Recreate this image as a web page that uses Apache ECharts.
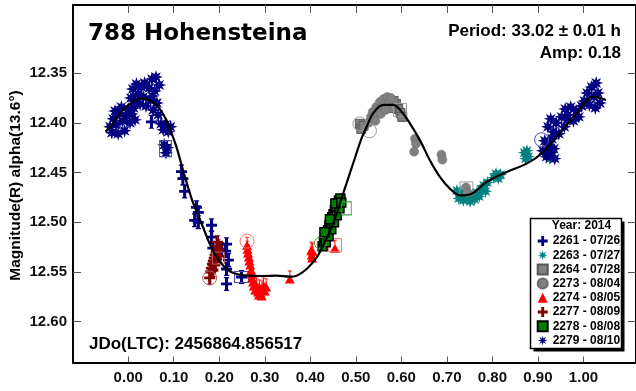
<!DOCTYPE html>
<html>
<head>
<meta charset="utf-8">
<script src="https://cdn.jsdelivr.net/npm/echarts@6/dist/echarts.min.js"></script>
<style>
  html, body { margin: 0; padding: 0; background: #fff; }
  #chart { width: 636px; height: 391px; }
</style>
</head>
<body>
<div id="chart"></div>
<script>
// 788 Hohensteina — phased R-band lightcurve, P = 33.02 h

// Axis ticks
const phaseTicks = [0.0, 0.1, 0.2, 0.3, 0.4, 0.5, 0.6, 0.7, 0.8, 0.9, 1.0];
const magTicks = [12.35, 12.40, 12.45, 12.50, 12.55, 12.60];

// Fourier fit curve (phase, magnitude)
const fitPhase = [-0.0495, -0.0334, -0.0114, 0.0105, 0.029, 0.0473, 0.0655, 0.084, 0.0912, 0.1059,
  0.1204, 0.139, 0.150, 0.1644, 0.179, 0.197, 0.216, 0.238, 0.267, 0.296,
  0.326, 0.355, 0.370, 0.392, 0.4136, 0.428, 0.450, 0.472, 0.494, 0.5125,
  0.5235, 0.538, 0.560, 0.582, 0.6004, 0.6187, 0.6407, 0.6626, 0.6846, 0.7066,
  0.7286, 0.7543, 0.787, 0.831, 0.875, 0.908, 0.948, 0.985, 1.0215, 1.0495];
const fitMag = [12.409, 12.4005, 12.387, 12.3787, 12.3753, 12.377, 12.3837, 12.3972, 12.4056, 12.4241,
  12.4477, 12.476, 12.489, 12.505, 12.5217, 12.5369, 12.547, 12.552, 12.5537, 12.554,
  12.5537, 12.5547, 12.5537, 12.547, 12.5356, 12.5234, 12.5015, 12.4712, 12.4409, 12.4157,
  12.404, 12.3904, 12.382, 12.382, 12.3888, 12.4005, 12.4174, 12.4376, 12.4544, 12.4662,
  12.473, 12.4713, 12.4595, 12.4494, 12.441, 12.4308, 12.4106, 12.3904, 12.3736, 12.377];

// Session 2261 - 07/26
const s2261 = [[0.051,12.399],[0.117,12.449],[0.120,12.456],[0.124,12.469],[0.150,12.485],[0.154,12.490],
  [0.146,12.498],[0.154,12.500],[0.183,12.503],[0.183,12.515],[0.186,12.526],[0.205,12.527],[0.216,12.522],
  [0.214,12.529],[0.220,12.538],[0.216,12.547],[0.216,12.562],[0.249,12.555]];
const r2261 = [[0.249,12.555]];

// Session 2263 - 07/27
const s2263 = [[0.722,12.468],[0.726,12.476],[0.731,12.471],[0.736,12.478],[0.741,12.469],[0.746,12.475],
  [0.751,12.479],[0.756,12.472],[0.761,12.477],[0.766,12.470],[0.771,12.474],[0.775,12.467],[0.781,12.463],
  [0.785,12.469],[0.789,12.460],[0.803,12.455],[0.808,12.451],[0.813,12.456],[0.818,12.452],[0.870,12.430],
  [0.873,12.436],[0.876,12.428],[0.879,12.434],[0.922,12.432],[0.926,12.436],[0.930,12.430]];

// Session 2264 - 07/28
const s2264 = [[0.509,12.401],[0.512,12.406],[0.517,12.403],[0.588,12.381],[0.593,12.386],[0.598,12.390],
  [0.602,12.394],[0.578,12.385],[0.583,12.378]];
const r2264 = [[0.597,12.387],[0.743,12.466]];

// Session 2273 - 08/04
const s2273 = [[0.528,12.400],[0.533,12.394],[0.537,12.389],[0.541,12.393],[0.545,12.384],[0.549,12.388],
  [0.553,12.379],[0.557,12.384],[0.561,12.376],[0.565,12.381],[0.569,12.374],[0.573,12.379],[0.577,12.375],
  [0.543,12.398],[0.555,12.391],[0.566,12.387],[0.630,12.416],[0.632,12.421],[0.628,12.429],[0.688,12.432],
  [0.690,12.437],[0.742,12.465],[0.745,12.470]];
const r2273 = [[0.509,12.401],[0.530,12.408]];

// Session 2274 - 08/05
const s2274 = [[0.261,12.521],[0.262,12.525],[0.263,12.529],[0.265,12.533],[0.266,12.537],[0.268,12.541],
  [0.270,12.546],[0.271,12.550],[0.272,12.554],[0.274,12.558],[0.276,12.562],[0.279,12.566],[0.282,12.562],
  [0.285,12.568],[0.288,12.564],[0.291,12.569],[0.294,12.565],[0.297,12.562],[0.300,12.567],[0.303,12.563],
  [0.287,12.571],[0.293,12.572],[0.355,12.555],[0.402,12.526],[0.403,12.531],[0.404,12.534],[0.405,12.527],
  [0.454,12.524]];
const r2274 = [[0.261,12.519],[0.454,12.523]];

// Session 2277 - 08/09
const s2277 = [[0.179,12.556],[0.181,12.550],[0.183,12.546],[0.185,12.542],[0.187,12.539],[0.189,12.536],
  [0.191,12.533],[0.193,12.530],[0.195,12.527],[0.197,12.524],[0.199,12.528],[0.201,12.534],[0.186,12.548],
  [0.190,12.543],[0.194,12.537],[0.196,12.520]];
const r2277 = [[0.179,12.556],[0.198,12.536]];

// Session 2278 - 08/08
const s2278 = [[0.427,12.524],[0.430,12.519],[0.433,12.516],[0.436,12.511],[0.439,12.508],[0.442,12.503],
  [0.445,12.500],[0.448,12.495],[0.451,12.492],[0.454,12.488],[0.457,12.485],[0.460,12.481],[0.463,12.478],
  [0.466,12.476],[0.434,12.520],[0.440,12.514],[0.446,12.507],[0.452,12.500],[0.458,12.493],[0.464,12.486],
  [0.431,12.510],[0.443,12.497],[0.455,12.481],[0.468,12.480]];
const r2278 = [[0.479,12.486],[0.422,12.521]];

// Session 2279 - 08/10
const s2279 = [[-0.040,12.404],[-0.036,12.410],[-0.033,12.396],[-0.029,12.388],[-0.026,12.402],[-0.022,12.411],
  [-0.019,12.391],[-0.015,12.384],[-0.012,12.398],[-0.008,12.408],[-0.004,12.393],[0.000,12.386],[0.004,12.400],
  [0.008,12.391],[0.012,12.385],[0.015,12.397],
  [0.006,12.375],[0.010,12.366],[0.014,12.378],[0.018,12.361],[0.022,12.371],[0.026,12.381],[0.029,12.364],
  [0.033,12.374],[0.036,12.360],[0.039,12.383],
  [0.046,12.365],[0.049,12.377],[0.052,12.356],[0.055,12.387],[0.058,12.368],[0.061,12.354],[0.063,12.380],
  [0.066,12.392],[0.068,12.362],[0.053,12.373],
  [0.072,12.401],[0.077,12.407],[0.082,12.402],[0.088,12.409],[0.093,12.404],
  [0.079,12.422],[0.083,12.430],[0.086,12.425],
  [0.911,12.428],[0.915,12.418],[0.919,12.434],[0.923,12.422],[0.927,12.430],[0.931,12.416],[0.935,12.426],
  [0.937,12.436],
  [0.922,12.404],[0.928,12.396],[0.934,12.409],[0.940,12.400],[0.946,12.411],[0.952,12.394],[0.958,12.404],
  [0.964,12.397],
  [0.960,12.386],[0.966,12.392],[0.972,12.384],[0.978,12.398],[0.984,12.388],[0.990,12.394],[0.996,12.383],
  [1.002,12.378],[1.008,12.370],[1.013,12.382],[1.018,12.364],[1.023,12.374],[1.028,12.360],[1.032,12.370],
  [1.036,12.380],[1.026,12.385]];
const r2279 = [[0.082,12.426],[0.908,12.417]];

// ---- marker shapes ----
function starPath(n, ro, ri) {
  let d = '';
  for (let i = 0; i < 2 * n; i++) {
    const a = -Math.PI / 2 + i * Math.PI / n;
    const r = i % 2 ? ri : ro;
    d += (i ? 'L' : 'M') + (r * Math.cos(a)).toFixed(3) + ',' + (r * Math.sin(a)).toFixed(3);
  }
  return 'path://' + d + 'Z';
}
const STAR = starPath(8, 10, 4.6);
const STAR_ICON = starPath(8, 10, 4.0);
const PLUS_BAR = 'path://M0,5.6H10V8.4H0Z M3.6,0H6.4V14H3.6Z M2.6,0H7.4V1.2H2.6Z M2.6,12.8H7.4V14H2.6Z';
const PLUS = 'path://M0,3.6H10V6.4H0Z M3.6,0H6.4V10H3.6Z';
const TRI_BAR = 'path://M5,4L10,13H0Z M4.5,0H5.5V5H4.5Z M3,0H7V0.9H3Z';

const FONT = '"Liberation Sans", Arial, sans-serif';

function ringItems(pts, shape, size, color) {
  return pts.map(p => ({
    value: p,
    symbol: shape,
    symbolSize: size,
    itemStyle: { color: 'rgba(0,0,0,0)', borderColor: color, borderWidth: 1 },
    z: 1
  }));
}

function scatter(name, pts, rings, sym, size, style, z) {
  return {
    type: 'scatter',
    name: name,
    symbol: sym,
    symbolSize: size,
    itemStyle: Object.assign({ opacity: 1 }, style),
    z: z,
    animation: false,
    emphasis: { disabled: true },
    data: pts.map(p => ({ value: p })).concat(rings)
  };
}

const names = ['2261 - 07/26', '2263 - 07/27', '2264 - 07/28', '2273 - 08/04',
               '2274 - 08/05', '2277 - 08/09', '2278 - 08/08', '2279 - 08/10'];

const series = [
  scatter(names[1], s2263, [], STAR, 13, { color: '#008080' }, 2),
  scatter(names[2], s2264, ringItems(r2264, 'rect', 13, '#9a9a9a'), 'rect', 9,
          { color: '#808080', borderColor: '#555555', borderWidth: 1 }, 3),
  scatter(names[3], s2273, ringItems(r2273, 'circle', 14, '#9a9a9a'), 'circle', 9,
          { color: '#808080', borderColor: '#6a6a6a', borderWidth: 0.5 }, 3),
  scatter(names[0], s2261, ringItems(r2261, 'rect', [14, 11], '#4a4aa8'), PLUS_BAR, [11, 14],
          { color: '#000080' }, 4),
  scatter(names[5], s2277, ringItems(r2277, 'circle', 14, '#b86060').map((d, i) => i === 1 ?
          Object.assign(d, { symbol: 'rect', symbolSize: 12 }) : d), PLUS_BAR, [11, 14],
          { color: '#800000' }, 4),
  scatter(names[4], s2274, ringItems(r2274, 'circle', 14, '#ff7070').map((d, i) => i === 1 ?
          Object.assign(d, { symbol: 'rect', symbolSize: 13 }) : d), TRI_BAR, [10, 13],
          { color: '#ff0000' }, 4),
  scatter(names[6], s2278, ringItems(r2278, 'rect', [10, 13], '#40a040').map((d, i) => i === 1 ?
          Object.assign(d, { symbol: 'circle', symbolSize: 12 }) : d), 'rect', 9,
          { color: '#008000', borderColor: '#000000', borderWidth: 1.5 }, 4),
  scatter(names[7], s2279, ringItems(r2279, 'rect', [12, 16], '#4a4aa8').map((d, i) => i === 1 ?
          Object.assign(d, { symbol: 'circle', symbolSize: 14 }) : d), STAR, 14,
          { color: '#000080' }, 3),
  {
    type: 'line',
    name: 'fit',
    data: fitPhase.map((x, i) => [x, fitMag[i]]),
    showSymbol: false,
    smooth: 0.35,
    lineStyle: { color: '#000', width: 2.2 },
    z: 6,
    animation: false,
    silent: true
  }
];

const legendIcons = [PLUS, STAR_ICON, 'rect', 'circle', 'triangle', PLUS, 'rect', STAR_ICON];

const xMin = -0.1213, xMax = 1.1154;
const yMin = 12.2815, yMax = 12.641;

const axisCommon = {
  axisLine: { show: true, onZero: false, lineStyle: { color: '#000', width: 2 } },
  splitLine: { show: false }
};

const chart = echarts.init(document.getElementById('chart'), null, { renderer: 'canvas' });
chart.setOption({
  animation: false,
  backgroundColor: '#fff',
  grid: { left: 73, top: 5, right: 0, bottom: 28.5, containLabel: false },
  xAxis: [
    Object.assign({
      type: 'value', min: xMin, max: xMax, position: 'bottom',
      axisTick: { show: true, inside: true, length: 6, customValues: phaseTicks,
                  lineStyle: { color: '#555', width: 1 } },
      axisLabel: { show: true, customValues: phaseTicks, margin: 8,
                   formatter: v => v.toFixed(2),
                   fontFamily: FONT, fontWeight: 'bold', fontSize: 15, color: '#111' }
    }, axisCommon),
    Object.assign({
      type: 'value', min: xMin, max: xMax, position: 'top',
      axisTick: { show: true, inside: true, length: 8, customValues: phaseTicks,
                  lineStyle: { color: '#555', width: 1 } },
      axisLabel: { show: false }
    }, axisCommon)
  ],
  yAxis: [
    Object.assign({
      type: 'value', min: yMin, max: yMax, inverse: true, position: 'left',
      axisTick: { show: true, inside: true, length: 8, customValues: magTicks,
                  lineStyle: { color: '#555', width: 1 } },
      axisLabel: { show: true, customValues: magTicks, margin: 6,
                   formatter: v => v.toFixed(2),
                   fontFamily: FONT, fontWeight: 'bold', fontSize: 15, color: '#111' }
    }, axisCommon),
    Object.assign({
      type: 'value', min: yMin, max: yMax, inverse: true, position: 'right',
      axisTick: { show: true, inside: true, length: 8, customValues: magTicks,
                  lineStyle: { color: '#555', width: 1 } },
      axisLabel: { show: false }
    }, axisCommon)
  ],
  legend: {
    data: names.map((n, i) => ({ name: n, icon: legendIcons[i] })),
    orient: 'vertical',
    left: 536.7,
    top: 235,
    padding: 0,
    itemGap: 2.2,
    itemWidth: 10,
    itemHeight: 10,
    selectedMode: false,
    z: 12,
    textStyle: { fontFamily: FONT, fontWeight: 'bold', fontSize: 12, color: '#000' }
  },
  graphic: [
    { type: 'rect', shape: { x: 533.5, y: 221.5, width: 91, height: 130 },
      style: { fill: '#000' }, z: 8, silent: true },
    { type: 'rect', shape: { x: 530.5, y: 218.5, width: 91, height: 130 },
      style: { fill: '#fff', stroke: '#000', lineWidth: 1.5 }, z: 9, silent: true },
    { type: 'text', x: 581.5, y: 226, z: 13, silent: true,
      style: { text: 'Year: 2014', align: 'center', verticalAlign: 'middle',
               font: 'bold 12px ' + FONT, fill: '#000' } },
    { type: 'text', x: 88, y: 34, z: 13, silent: true,
      style: { text: '788 Hohensteina', align: 'left', verticalAlign: 'middle',
               font: 'bold 23px "DejaVu Sans", sans-serif', fill: '#000' } },
    { type: 'text', x: 621, y: 31, z: 13, silent: true,
      style: { text: 'Period: 33.02 \u00b1 0.01 h', align: 'right', verticalAlign: 'middle',
               font: 'bold 17px ' + FONT, fill: '#000' } },
    { type: 'text', x: 621, y: 53, z: 13, silent: true,
      style: { text: 'Amp: 0.18', align: 'right', verticalAlign: 'middle',
               font: 'bold 17px ' + FONT, fill: '#000' } },
    { type: 'text', x: 89, y: 344, z: 13, silent: true,
      style: { text: 'JDo(LTC): 2456864.856517', align: 'left', verticalAlign: 'middle',
               font: 'bold 17px ' + FONT, fill: '#000' } },
    { type: 'text', x: 16, y: 185.5, rotation: Math.PI / 2, z: 13, silent: true,
      style: { text: 'Magnitude(R) alpha(13.6\u00b0)', align: 'center', verticalAlign: 'middle',
               font: 'bold 15.5px ' + FONT, fill: '#000' } }
  ],
  series: series
});
</script>
</body>
</html>
